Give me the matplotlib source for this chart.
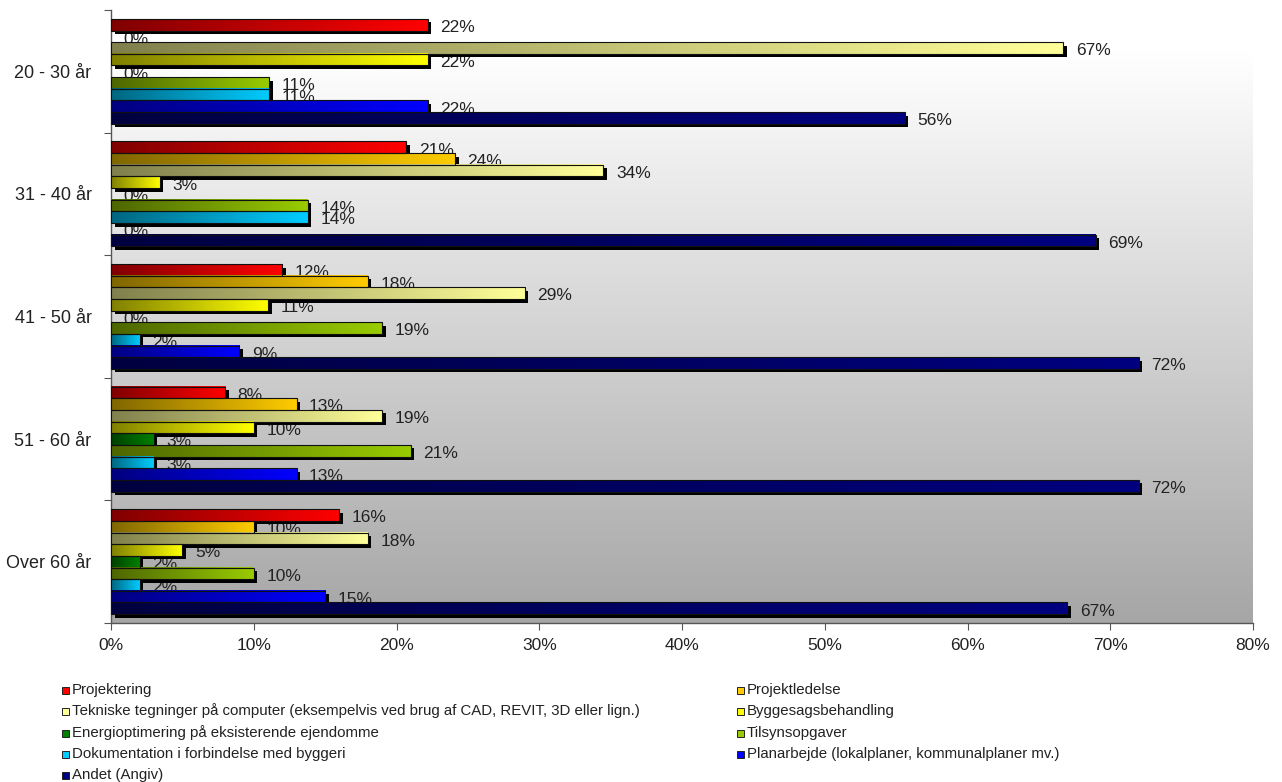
import numpy as np
import matplotlib
matplotlib.use("Agg")
import matplotlib.pyplot as plt
from matplotlib.colors import LinearSegmentedColormap
from matplotlib.patches import Rectangle
import matplotlib.transforms as mtransforms

plt.rcParams['font.family'] = ['Liberation Sans', 'DejaVu Sans']

groups = ["20 - 30 år", "31 - 40 år", "41 - 50 år", "51 - 60 år", "Over 60 år"]
series = [
    "Projektering",
    "Projektledelse",
    "Tekniske tegninger på computer (eksempelvis ved brug af CAD, REVIT, 3D eller lign.)",
    "Byggesagsbehandling",
    "Energioptimering på eksisterende ejendomme",
    "Tilsynsopgaver",
    "Dokumentation i forbindelse med byggeri",
    "Planarbejde (lokalplaner, kommunalplaner mv.)",
    "Andet (Angiv)",
]
# values in percent, rows = series, columns = groups
projektering   = [22.2, 20.7, 12, 8, 16]
projektledelse = [0, 24.1, 18, 13, 10]
tekniske       = [66.7, 34.5, 29, 19, 18]
byggesag       = [22.2, 3.4, 11, 10, 5]
energi         = [0, 0, 0, 3, 2]
tilsyn         = [11.1, 13.8, 19, 21, 10]
dokumentation  = [11.1, 13.8, 2, 3, 2]
planarbejde    = [22.2, 0, 9, 13, 15]
andet          = [55.6, 69.0, 72, 72, 67]
values = [projektering, projektledelse, tekniske, byggesag, energi,
          tilsyn, dokumentation, planarbejde, andet]

x_ticks = [0, 10, 20, 30, 40, 50, 60, 70, 80]

bright = ["#FF0000", "#FFCC00", "#FFFF99", "#FFFF00", "#008000",
          "#99CC00", "#00CCFF", "#0000FF", "#000080"]
dark = ["#800000", "#806600", "#80804D", "#808000", "#004000",
        "#4D6600", "#006680", "#000080", "#000040"]

fig = plt.figure(figsize=(12.82, 7.82), dpi=100)
ax = fig.add_axes([111/1282, 1-623/782, (1253-111)/1282, (623-10)/782])

ax.set_xlim(0, 80)
ax.set_ylim(len(groups)-0.5, -0.5)

# background gradient
bg = LinearSegmentedColormap.from_list("bg", [(0, "#FFFFFF"), (0.07, "#FFFFFF"), (1, "#A6A6A6")])
grad = np.linspace(0, 1, 256).reshape(-1, 1)
ax.imshow(grad, cmap=bg, extent=[0, 80, len(groups)-0.5, -0.5],
          aspect='auto', zorder=0, interpolation='bicubic')

nser = len(series)
h = 0.095
start = -nser*h/2
shadow_tr = mtransforms.offset_copy(ax.transData, fig=fig, x=3.5, y=-3.5, units='dots')
hgrad = np.linspace(0, 1, 256).reshape(1, -1)

for j in range(nser):
    cmap = LinearSegmentedColormap.from_list(f"c{j}", [dark[j], bright[j]])
    for i in range(len(groups)):
        v = values[j][i]
        y0 = i + start + j*h
        y1 = y0 + h
        if v > 0:
            ax.add_patch(Rectangle((0, y0), v, h, facecolor='black', edgecolor='none',
                                   transform=shadow_tr, zorder=3))
            ax.imshow(hgrad, cmap=cmap, extent=[0, v, y1, y0], aspect='auto',
                      zorder=4, interpolation='bilinear')
            ax.add_patch(Rectangle((0, y0), v, h, facecolor='none', edgecolor='#111111',
                                   linewidth=0.8, zorder=5))
        ax.annotate(f"{v:.0f}%", xy=(v, (y0+y1)/2), xytext=(9, -2),
                    textcoords='offset points', ha='left', va='center',
                    fontsize=12.5, color='#222222', zorder=2)

ax.set_xlim(0, 80)
ax.set_ylim(len(groups)-0.5, -0.5)

ax.set_xticks(x_ticks)
ax.set_xticklabels([f"{t}%" for t in x_ticks], fontsize=12.5, color='#222222')
ax.set_yticks(np.arange(len(groups)+1) - 0.5)
ax.set_yticklabels([])
ax.set_yticks(np.arange(len(groups)), minor=True)
ax.set_yticklabels(groups, minor=True, fontsize=13, color='#222222')
ax.tick_params(axis='y', which='minor', length=0, pad=14)
ax.tick_params(axis='y', which='major', length=5, direction='out', color='#555555')
ax.tick_params(axis='x', length=5, direction='out', color='#555555', pad=6)
for s in ['top', 'right']:
    ax.spines[s].set_visible(False)
for s in ['left', 'bottom']:
    ax.spines[s].set_color('#555555')
    ax.spines[s].set_linewidth(1.0)

# legend (row-major, two columns)
col_x = [62, 737]
row_y = [690, 711, 733, 754, 775]
for k, name in enumerate(series):
    r, c = divmod(k, 2)
    px = col_x[c] / 1282
    py = 1 - row_y[r] / 782
    fig.patches.append(Rectangle((px, py - 3.5/782), 7/1282, 7/782,
                                 transform=fig.transFigure, facecolor=bright[k],
                                 edgecolor='#222222', linewidth=0.7))
    fig.text(px + 10/1282, py, name, fontsize=10.8, color='#222222',
             ha='left', va='center')

fig.savefig("out.png", dpi=100)
